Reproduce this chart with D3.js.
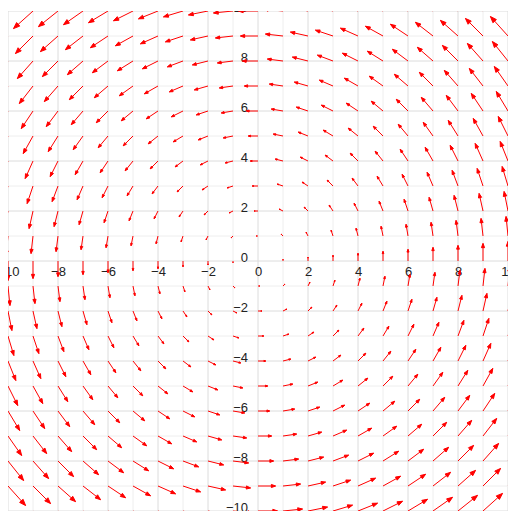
<!DOCTYPE html>
<html>
<head>
<meta charset="utf-8">
<script src="https://cdn.jsdelivr.net/npm/d3@7"></script>
<style>
  body { margin: 0; background: #fff; }
  .canvas text { font-family: "Liberation Sans", Arial, sans-serif; font-size: 13px; fill: #222; }
</style>
</head>
<body>
<div class="canvas"></div>
<script>

var WIDTH = 523;
var HEIGHT = 528;
var margin = { top: 11, right: 15, bottom: 17, left: 8 };

// sample points of the vector field
var gridX = [-10, -9, -8, -7, -6, -5, -4, -3, -2, -1, 0, 1, 2, 3, 4, 5, 6, 7, 8, 9, 10];
var gridY = [-10, -9, -8, -7, -6, -5, -4, -3, -2, -1, 0, 1, 2, 3, 4, 5, 6, 7, 8, 9, 10];

var xTicks = [-10, -8, -6, -4, -2, 0, 2, 4, 6, 8, 10];
var yTicks = [-10, -8, -6, -4, -2, 0, 2, 4, 6, 8, 10];

// arrow length per unit of field magnitude
var ARROW_SCALE = 0.078;

// the plotted field: F(x, y) = (-y, x)
var field = function(x, y) {
  return [-y, x];
};

var width = WIDTH - margin.left - margin.right;
var height = HEIGHT - margin.top - margin.bottom;

var x = d3.scaleLinear().domain([-10, 10]).range([0, width]);
var y = d3.scaleLinear().domain([-10, 10]).range([height, 0]);

var svg = d3.select(".canvas")
  .append("svg")
  .attr("width", WIDTH)
  .attr("height", HEIGHT);

svg.append("defs")
  .append("clipPath")
  .attr("id", "plot-clip")
  .append("rect")
  .attr("width", width)
  .attr("height", height);

var vis = svg.append("g")
  .attr("transform", "translate(" + [margin.left, margin.top] + ")")
  .attr("clip-path", "url(#plot-clip)");

var isMajor = function(d) { return d % 2 === 0; };

// grid: light lines every unit, darker ones on the labelled values
vis.append("g").selectAll("line.gx")
  .data(gridX)
  .join("line")
  .attr("x1", function(d) { return x(d); })
  .attr("x2", function(d) { return x(d); })
  .attr("y1", 0)
  .attr("y2", height)
  .attr("stroke", function(d) { return isMajor(d) ? "#dcdcdc" : "#eeeeee"; });

vis.append("g").selectAll("line.gy")
  .data(gridY)
  .join("line")
  .attr("y1", function(d) { return y(d); })
  .attr("y2", function(d) { return y(d); })
  .attr("x1", 0)
  .attr("x2", width)
  .attr("stroke", function(d) { return isMajor(d) ? "#dcdcdc" : "#eeeeee"; });

// axis labels sit on the origin lines
var xAxis = d3.axisBottom(x).tickValues(xTicks).tickSize(0).tickPadding(6);
var yAxis = d3.axisLeft(y).tickValues(yTicks).tickSize(0).tickPadding(10);

var gx = vis.append("g")
  .attr("transform", "translate(0," + y(0) + ")")
  .call(xAxis);

var gy = vis.append("g")
  .attr("transform", "translate(" + x(0) + ",0)")
  .call(yAxis);

gy.selectAll("text").attr("dy", "0");

[gx, gy].forEach(function(g) {
  g.attr("font-family", null).attr("font-size", null);
  g.select(".domain").remove();
  g.selectAll(".tick line").remove();
});

// arrows
var arrows = [];
gridX.forEach(function(px) {
  gridY.forEach(function(py) {
    var v = field(px, py);
    arrows.push({ x: px, y: py, dx: v[0], dy: v[1] });
  });
});

var arrowPath = function(d) {
  var x0 = x(d.x), y0 = y(d.y);
  var x1 = x(d.x + d.dx * ARROW_SCALE), y1 = y(d.y + d.dy * ARROW_SCALE);
  var len = Math.sqrt((x1 - x0) * (x1 - x0) + (y1 - y0) * (y1 - y0));
  if (len === 0) return null;
  var ux = (x1 - x0) / len, uy = (y1 - y0) / len;
  var hl = len * 0.24, hw = len * 0.09;
  var bx = x1 - ux * hl, by = y1 - uy * hl;
  return "M" + x0 + "," + y0 + "L" + x1 + "," + y1 +
    "M" + x1 + "," + y1 +
    "L" + (bx - uy * hw) + "," + (by + ux * hw) +
    "L" + (bx + uy * hw) + "," + (by - ux * hw) + "Z";
};

vis.append("g").selectAll("path")
  .data(arrows.filter(function(d) { return d.dx !== 0 || d.dy !== 0; }))
  .join("path")
  .attr("d", arrowPath)
  .attr("fill", "red")
  .attr("stroke", "red")
  .attr("stroke-width", 1);

</script>
</body>
</html>
